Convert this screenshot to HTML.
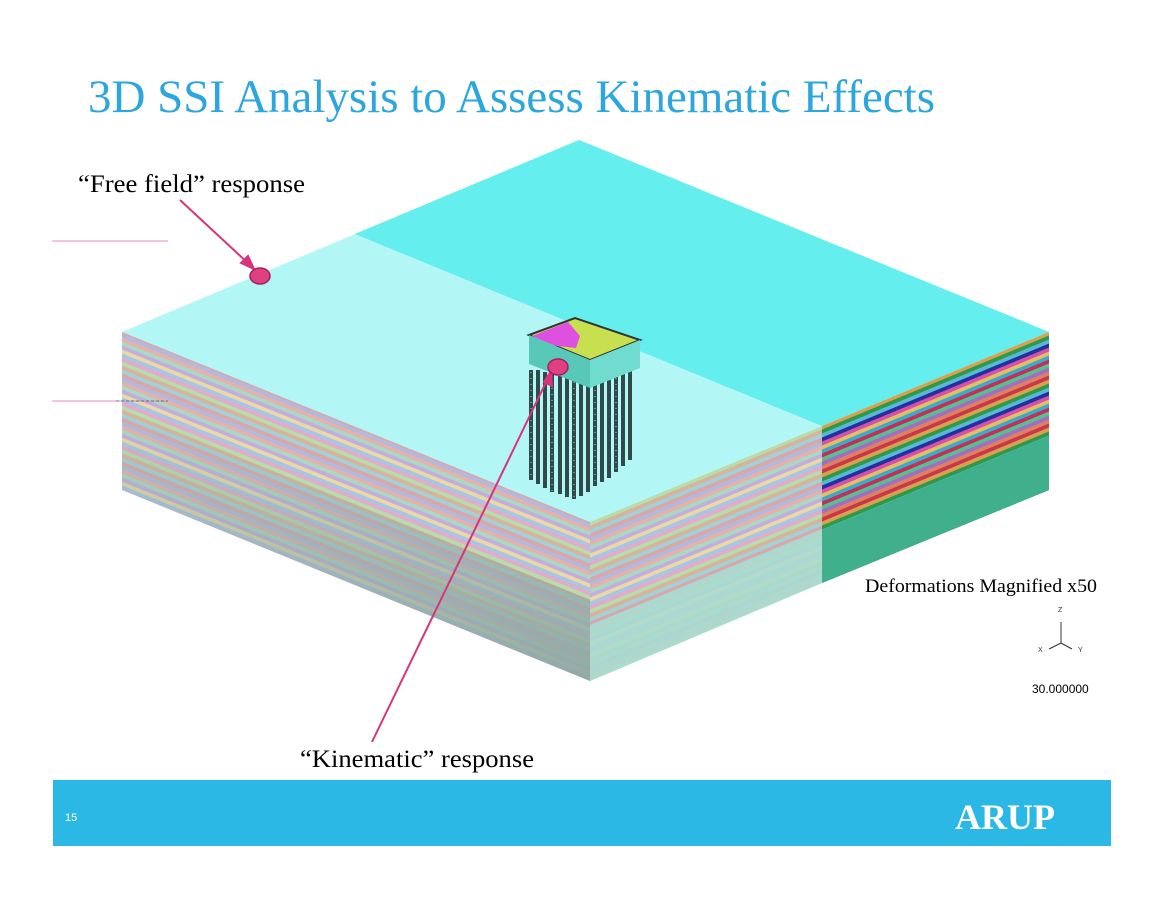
<!DOCTYPE html>
<html><head><meta charset="utf-8"><style>
html,body{margin:0;padding:0;background:#fff;width:1164px;height:899px;overflow:hidden}
svg{display:block}
</style></head><body>
<svg width="1164" height="899" viewBox="0 0 1164 899" xmlns="http://www.w3.org/2000/svg">
<defs>
<pattern id="pL" width="20" height="44" patternUnits="userSpaceOnUse" patternTransform="translate(0,332) skewY(22.1)">
<rect width="20" height="44" fill="#b9d6d6"/>
<rect y="0" width="20" height="4" fill="#e4b2aa"/><rect y="4" width="20" height="4" fill="#a9d9c4"/>
<rect y="8" width="20" height="4" fill="#c2aede"/><rect y="12" width="20" height="4" fill="#ecd8a4"/>
<rect y="16" width="20" height="4" fill="#a6c6e4"/><rect y="20" width="20" height="4" fill="#e2aacb"/>
<rect y="24" width="20" height="4" fill="#b8dcaa"/><rect y="28" width="20" height="4" fill="#d6b49c"/>
<rect y="32" width="20" height="4" fill="#a4d0d8"/><rect y="36" width="20" height="4" fill="#d8a8a8"/>
<rect y="40" width="20" height="4" fill="#b4b8dc"/>
</pattern>
<pattern id="pR" width="20" height="44" patternUnits="userSpaceOnUse" patternTransform="translate(0,522) skewY(-22.5)">
<rect width="20" height="44" fill="#b9d6d6"/>
<rect y="0" width="20" height="4" fill="#e4b2aa"/><rect y="4" width="20" height="4" fill="#a9d9c4"/>
<rect y="8" width="20" height="4" fill="#c2aede"/><rect y="12" width="20" height="4" fill="#ecd8a4"/>
<rect y="16" width="20" height="4" fill="#a6c6e4"/><rect y="20" width="20" height="4" fill="#e2aacb"/>
<rect y="24" width="20" height="4" fill="#b8dcaa"/><rect y="28" width="20" height="4" fill="#d6b49c"/>
<rect y="32" width="20" height="4" fill="#a4d0d8"/><rect y="36" width="20" height="4" fill="#d8a8a8"/>
<rect y="40" width="20" height="4" fill="#b4b8dc"/>
</pattern>
<pattern id="pS" width="20" height="48" patternUnits="userSpaceOnUse" patternTransform="translate(0,522) skewY(-22.5)">
<rect width="20" height="48" fill="#50b8c8"/>
<rect y="0" width="20" height="4" fill="#c83848"/><rect y="4" width="20" height="4" fill="#d8a050"/>
<rect y="8" width="20" height="4" fill="#2e9a48"/><rect y="12" width="20" height="4" fill="#58b8d8"/>
<rect y="16" width="20" height="4" fill="#2430a0"/><rect y="20" width="20" height="4" fill="#d850a8"/>
<rect y="24" width="20" height="4" fill="#e0c060"/><rect y="28" width="20" height="4" fill="#40a8c8"/>
<rect y="32" width="20" height="4" fill="#c03058"/><rect y="36" width="20" height="4" fill="#58c090"/>
<rect y="40" width="20" height="4" fill="#a070c0"/><rect y="44" width="20" height="4" fill="#e08060"/>
</pattern>
<linearGradient id="gL" x1="0" y1="0" x2="0" y2="1">
<stop offset="0" stop-color="#8fa9a3" stop-opacity="0"/><stop offset="1" stop-color="#8fa9a3" stop-opacity="1"/>
</linearGradient>
</defs>

<text x="88" y="112" font-family="Liberation Serif, serif" font-size="47" fill="#2ca6dc" textLength="847" lengthAdjust="spacingAndGlyphs">3D SSI Analysis to Assess Kinematic Effects</text>

<polygon points="122,332 579,140 1049,332 590,522" fill="#b2f6f6"/>
<polygon points="355,234 579,140 1049,332 822,426" fill="#64eeee"/>

<polygon points="122,332 590,522 590,681 122,490" fill="url(#pL)"/>
<polygon points="122,410 590,600 590,681 122,490" fill="url(#gL)" opacity="0.95"/>
<polygon points="590,522 822,426 822,583 590,681" fill="url(#pR)"/>
<polygon points="590,625 822,529 822,583 590,681" fill="#a8ddd0" opacity="0.85"/>
<polygon points="822,426 1049,332 1049,490 822,583" fill="url(#pS)"/>
<polygon points="822,530 1049,436 1049,490 822,583" fill="#40b08c"/>

<g stroke="#2f4a48" stroke-width="4">
<line x1="531" y1="370" x2="531" y2="480"/><line x1="538" y1="370" x2="538" y2="484"/>
<line x1="545" y1="372" x2="545" y2="488"/><line x1="552" y1="374" x2="552" y2="492"/>
<line x1="560" y1="376" x2="560" y2="494"/><line x1="567" y1="378" x2="567" y2="497"/>
<line x1="574" y1="380" x2="574" y2="499"/><line x1="581" y1="380" x2="581" y2="496"/>
<line x1="588" y1="378" x2="588" y2="492"/><line x1="595" y1="376" x2="595" y2="486"/>
<line x1="602" y1="372" x2="602" y2="482"/><line x1="609" y1="368" x2="609" y2="478"/>
<line x1="616" y1="364" x2="616" y2="472"/><line x1="623" y1="360" x2="623" y2="466"/>
<line x1="630" y1="356" x2="630" y2="460"/>
</g>
<g stroke="#9fd0cc" stroke-width="1" stroke-dasharray="1 5">
<line x1="531" y1="372" x2="531" y2="480"/><line x1="552" y1="376" x2="552" y2="492"/>
<line x1="574" y1="382" x2="574" y2="499"/><line x1="595" y1="378" x2="595" y2="486"/>
<line x1="616" y1="366" x2="616" y2="472"/>
</g>
<polygon points="529,335 575,318 640,340 590,360" fill="#c8e050" stroke="#333" stroke-width="2"/>
<polygon points="532,336 568,322 580,336 576,348 548,345" fill="#e050e0"/>
<polygon points="529,335 590,360 590,388 529,364" fill="#58c8b8"/>
<polygon points="590,360 640,340 640,368 590,388" fill="#70dcd0"/>

<g stroke="#d8347c" stroke-width="2" fill="#d8347c">
<line x1="180" y1="200" x2="250" y2="265"/>
<polygon points="254,269 241,263 248,256"/>
<line x1="372" y1="742" x2="549" y2="376"/>
<polygon points="551,371 552,386 544,382"/>
</g>
<ellipse cx="260" cy="276" rx="10" ry="8" fill="#e0407f" stroke="#a02060" stroke-width="1.5"/>
<ellipse cx="558" cy="367" rx="10" ry="8" fill="#e0407f" stroke="#a02060" stroke-width="1.5"/>

<line x1="52" y1="241" x2="168" y2="241" stroke="#e090c0" stroke-width="1"/>
<line x1="52" y1="401" x2="168" y2="401" stroke="#e090c0" stroke-width="1"/>
<line x1="116" y1="401" x2="168" y2="401" stroke="#607080" stroke-width="1" stroke-dasharray="3 2"/>

<text x="78" y="192" font-family="Liberation Serif, serif" font-size="25" fill="#000" textLength="227" lengthAdjust="spacingAndGlyphs">“Free field” response</text>
<text x="300" y="767" font-family="Liberation Serif, serif" font-size="25" fill="#000" textLength="234" lengthAdjust="spacingAndGlyphs">“Kinematic” response</text>
<text x="865" y="592" font-family="Liberation Serif, serif" font-size="19" fill="#000" textLength="232" lengthAdjust="spacingAndGlyphs">Deformations Magnified x50</text>

<g stroke="#333" stroke-width="1" fill="none">
<line x1="1061" y1="643" x2="1061" y2="622"/>
<line x1="1061" y1="643" x2="1049" y2="649"/>
<line x1="1061" y1="643" x2="1072" y2="649"/>
</g>
<text x="1058" y="612" font-family="Liberation Sans, sans-serif" font-size="7" fill="#333">Z</text>
<text x="1038" y="652" font-family="Liberation Sans, sans-serif" font-size="7" fill="#333">X</text>
<text x="1078" y="652" font-family="Liberation Sans, sans-serif" font-size="7" fill="#333">Y</text>
<text x="1032" y="693" font-family="Liberation Sans, sans-serif" font-size="12" fill="#000">30.000000</text>

<rect x="53" y="780" width="1058" height="66" fill="#2cb8e4"/>
<text x="65" y="821" font-family="Liberation Sans, sans-serif" font-size="11" fill="#fff">15</text>
<text x="955" y="829" font-family="Liberation Serif, serif" font-size="36" font-weight="bold" fill="#fff" textLength="100" lengthAdjust="spacingAndGlyphs">ARUP</text>
</svg>
</body></html>
